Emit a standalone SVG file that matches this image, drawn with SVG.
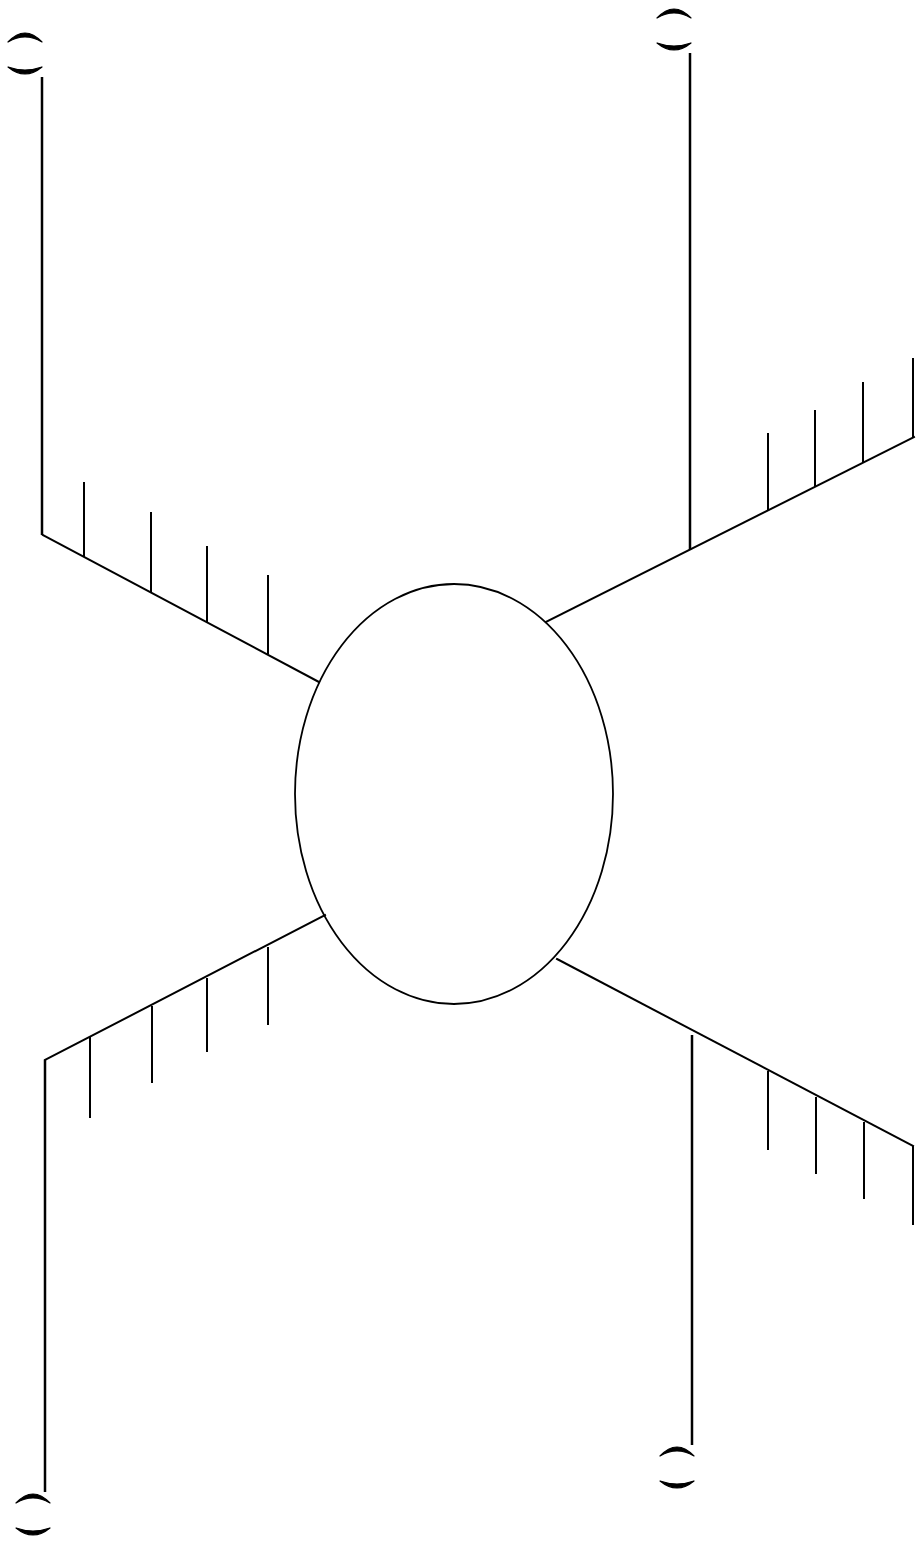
<svg xmlns="http://www.w3.org/2000/svg" width="917" height="1543" viewBox="0 0 917 1543">
<style>
.ln{stroke:#000;stroke-width:2;fill:none;stroke-linecap:square}
.vl{stroke:#000;stroke-width:2.5;fill:none}
.tk{stroke:#000;stroke-width:2;fill:none}
.br{fill:#000;stroke:#000;stroke-width:1.2;stroke-linejoin:round}
</style>
<rect width="917" height="1543" fill="#fff"/>
<g id="center">
<ellipse cx="454" cy="794" rx="159" ry="210" fill="none" stroke="#000" stroke-width="1.8"/>
</g>
<g id="connectors">
<path class="ln" d="M319,682 L43,535"/>
<path class="vl" d="M42,535 V77"/>
<path class="tk" d="M84,557 V482 M151,592 V512 M207,622 V546 M268,654 V575"/>
<path class="ln" d="M546,622 L914,437"/>
<path class="vl" d="M690,550 V53"/>
<path class="tk" d="M768,511 V433 M815,487 V410 M863,463 V382 M913,437 V358"/>
<path class="ln" d="M325,915 L45,1060"/>
<path class="vl" d="M45,1060 V1492"/>
<path class="tk" d="M90,1037 V1118 M152,1006 V1083 M207,978 V1052 M268,947 V1025"/>
<path class="ln" d="M557,959 L913,1146"/>
<path class="vl" d="M692,1035 V1445"/>
<path class="tk" d="M768,1071 V1150 M816,1097 V1174 M864,1122 V1199 M913,1146 V1225"/>
</g>
<g id="bracket-tl" transform="translate(0,0)">
<path class="br" d="M8,42 Q25,24 42,42 Q25,32 8,42 Z"/>
<path class="br" d="M8,67 Q25,81 42,67 Q25,73 8,67 Z"/>
</g>
<g id="bracket-tr" transform="translate(649,-24)">
<path class="br" d="M8,42 Q25,24 42,42 Q25,32 8,42 Z"/>
<path class="br" d="M8,67 Q25,81 42,67 Q25,73 8,67 Z"/>
</g>
<g id="bracket-bl" transform="translate(8,1461)">
<path class="br" d="M8,42 Q25,24 42,42 Q25,32 8,42 Z"/>
<path class="br" d="M8,67 Q25,81 42,67 Q25,73 8,67 Z"/>
</g>
<g id="bracket-br" transform="translate(652,1414)">
<path class="br" d="M8,42 Q25,24 42,42 Q25,32 8,42 Z"/>
<path class="br" d="M8,67 Q25,81 42,67 Q25,73 8,67 Z"/>
</g>
</svg>
